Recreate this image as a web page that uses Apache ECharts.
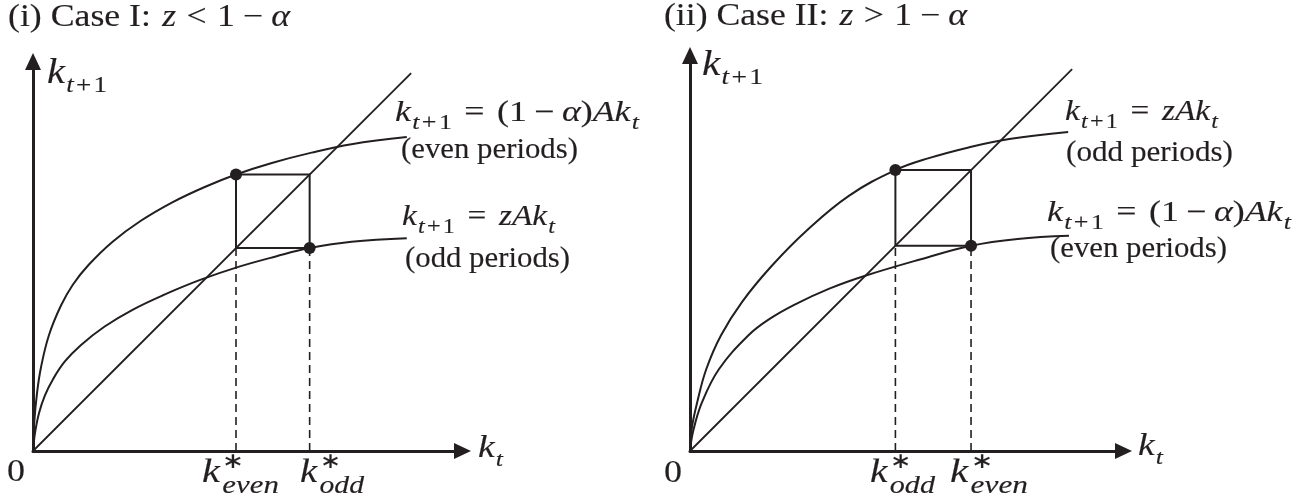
<!DOCTYPE html>
<html>
<head>
<meta charset="utf-8">
<script src="https://cdn.jsdelivr.net/npm/echarts@6/dist/echarts.min.js"></script>
<style>
  html, body { margin: 0; background: #fff; }
  #chart { width: 1312px; height: 503px; }
</style>
</head>
<body>
<div id="chart"></div>
<script>
// values, same unit on both axes (diagonal is k_{t+1} = k_t)
// Case I: z < 1 - alpha
const upperCaseI = [[0, 0], [0.3, 7], [1, 14.5], [2, 21], [4, 29.1], [7, 36.5], [10, 41.8], [14, 46.8],
  [20, 52.6], [27, 57.8], [35, 62.5], [43, 66.3], [51, 69.5], [60, 72.4], [70, 75], [80, 77.1], [93.9, 78.9]];
const lowerCaseI = [[0, 0], [0.5, 4.5], [1.5, 9.5], [3, 14], [5, 18], [8, 22.5], [12, 26.6], [18, 31.3],
  [25, 35.5], [33, 39.3], [42, 43], [52, 46.4], [61, 48.9], [69.5, 51], [80, 52.6], [93.9, 53.5]];
const diagCaseI = [[0, 0], [95, 95]];
const steadyCaseI = [51, 69.5];      // k*_even, k*_odd

// Case II: z > 1 - alpha
const upperCaseII = [[0, 0], [0.5, 6], [1.8, 12.2], [4.1, 20.6], [7.8, 29.1], [13.1, 37.5], [20.5, 46.5],
  [29.4, 55.5], [40, 64.2], [51.6, 70.6], [60, 73.6], [70, 76.3], [80.2, 78.4], [95, 80.2]];
const lowerCaseII = [[0, 0], [0.8, 5], [3, 12.2], [7.3, 20.6], [14.7, 29.1], [20, 33.2], [26.3, 36.8],
  [35, 40.8], [44.2, 44.1], [58, 48.2], [70.6, 51.6], [82.3, 53.3], [95.2, 54.1]];
const diagCaseII = [[0, 0], [96, 96]];
const steadyCaseII = [51.6, 70.6];   // k*_odd, k*_even

const INK = '#231f20';
const SERIF = '"Liberation Serif", "Times New Roman", serif';
const measureCtx = document.createElement('canvas').getContext('2d');

const R = (t, s, o) => Object.assign({ t: t, s: s }, o || {});

function runFont(r) {
  return (r.i ? 'italic ' : '') + r.s + 'px ' + SERIF;
}

// lays out a row of text pieces on one baseline (sub/superscripts via dy),
// stretched horizontally so the whole row is `width` px wide like the scan
function label(x, base, runs, width) {
  let cx = 0, prev = 0;
  const pieces = runs.map(r => {
    const f = runFont(r);
    measureCtx.font = f;
    const w = measureCtx.measureText(r.t).width;
    const start = r.under ? prev : cx + (r.g || 0);
    if (!r.under) prev = start;
    cx = Math.max(cx, start + w);
    return { r: r, f: f, start: start };
  });
  const sx = width ? width / cx : 1;
  return pieces.map(p => ({
    type: 'text', x: x + p.start * sx, y: base + (p.r.dy || 0) - 0.32 * p.r.s, scaleX: sx, silent: true,
    style: {
      text: p.r.t, font: p.f, fill: INK, stroke: INK, lineWidth: 0.15,
      align: 'left', verticalAlign: 'middle'
    }
  }));
}

const M = 29, S = 21, D = 7;
const eqAlpha = [R('k', M, { i: 1 }), R('t', S, { i: 1, dy: D, g: 1 }), R('+', S, { dy: D, g: 2 }), R('1', S, { dy: D, g: 2 }),
  R('=', M, { g: 10 }), R('(1', M, { g: 10 }), R('\u2212', M, { g: 6 }), R('\u03b1', M, { i: 1, g: 6 }), R(')', M),
  R('Ak', M, { i: 1 }), R('t', S, { i: 1, dy: D, g: 1 })];
const eqZ = [R('k', M, { i: 1 }), R('t', S, { i: 1, dy: D, g: 1 }), R('+', S, { dy: D, g: 2 }), R('1', S, { dy: D, g: 2 }),
  R('=', M, { g: 11 }), R('zAk', M, { i: 1, g: 11 }), R('t', S, { i: 1, dy: D, g: 1 })];
const yName = [R('k', 36, { i: 1 }), R('t', 24, { i: 1, dy: 8, g: 1 }), R('+', 24, { dy: 8, g: 2 }), R('1', 24, { dy: 8, g: 2 })];
const xName = [R('k', 32, { i: 1 }), R('t', 22, { i: 1, dy: 8, g: 1 })];
const kStar = sub => [R('k', 34, { i: 1 }), R('\u2217', 22, { dy: -15, g: 2 }), R(sub, 26, { i: 1, dy: 10, under: 1 })];
const title = (lead, rel) => [R(lead, 31), R('z', 31, { i: 1, g: 2 }), R(rel, 31, { g: 9 }), R('1', 31, { g: 9 }),
  R('\u2212', 31, { g: 7 }), R('\u03b1', 31, { i: 1, g: 7 })];
const words = t => [R(t, 29)];

function panelSeries(idx, upper, lower, diag, steady) {
  const lo = Math.min(steady[0], steady[1]), hi = Math.max(steady[0], steady[1]);
  const line = (data, extra) => Object.assign({
    type: 'line', xAxisIndex: idx, yAxisIndex: idx, data: data, showSymbol: false, silent: true,
    lineStyle: { color: INK, width: 2 }
  }, extra || {});
  const dashed = { color: INK, width: 1.6, type: [8, 5] };
  return [
    line(upper, { smooth: 0.4 }),
    line(lower, { smooth: 0.4 }),
    line(diag, { lineStyle: { color: INK, width: 1.8 } }),
    line([[lo, lo], [lo, hi], [hi, hi], [hi, lo], [lo, lo]]),
    line([[lo, 0], [lo, lo]], { lineStyle: dashed }),
    line([[hi, 0], [hi, lo]], { lineStyle: dashed }),
    {
      type: 'scatter', xAxisIndex: idx, yAxisIndex: idx, silent: true, symbolSize: 12, z: 5,
      itemStyle: { color: INK, opacity: 1 }, data: [[lo, hi], [hi, lo]]
    }
  ];
}

function axis(max, idx) {
  return {
    type: 'value', gridIndex: idx, min: 0, max: max,
    axisLine: { show: true, symbol: ['none', 'triangle'], symbolSize: [16, 17], lineStyle: { color: INK, width: 3 } },
    axisTick: { show: false }, axisLabel: { show: false }, splitLine: { show: false }
  };
}

const chart = echarts.init(document.getElementById('chart'));
chart.setOption({
  animation: false,
  backgroundColor: '#fff',
  grid: [
    { left: 33, top: 61.5, width: 429.5, height: 389.5 },
    { left: 690, top: 55.5, width: 433.5, height: 395.5 }
  ],
  xAxis: [axis(107.9, 0), axis(108.9, 1)],
  yAxis: [axis(97.9, 0), axis(99.4, 1)],
  series: [].concat(
    panelSeries(0, upperCaseI, lowerCaseI, diagCaseI, steadyCaseI),
    panelSeries(1, upperCaseII, lowerCaseII, diagCaseII, steadyCaseII)
  ),
  graphic: { elements: [].concat(
    label(8, 28, title('(i) Case I: ', '<'), 282),
    label(47, 85, yName, 60),
    label(478, 459, xName, 25),
    label(7, 483, [R('0', 32)], 18),
    label(202, 484, kStar('even'), 77),
    label(300, 484, kStar('odd'), 64),
    label(395, 123, eqAlpha, 244),
    label(401, 160, words('(even periods)'), 177),
    label(402, 227, eqZ, 153),
    label(405, 269, words('(odd periods)'), 165),

    label(664, 27, title('(ii) Case II: ', '>'), 303),
    label(702, 77, yName, 61),
    label(1138, 457, xName, 25),
    label(664, 484, [R('0', 32)], 18),
    label(870, 484, kStar('odd'), 65),
    label(950, 484, kStar('even'), 78),
    label(1065, 122, eqZ, 153),
    label(1066, 163, words('(odd periods)'), 167),
    label(1047, 223, eqAlpha, 244),
    label(1050, 259, words('(even periods)'), 177)
  ) }
});
window.addEventListener('resize', () => chart.resize());
</script>
</body>
</html>
